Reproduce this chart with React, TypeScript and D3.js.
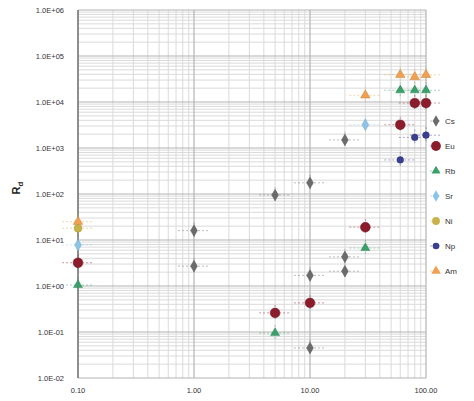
import React from "react";
import * as d3 from "d3";

const seriesNames = ["Cs", "Eu", "Rb", "Sr", "Ni", "Np", "Am"];
const seriesColors = ["#6b6b6b", "#8b1c2c", "#3aa06a", "#8cc4e8", "#c8b34a", "#3a3f8f", "#f0a050"];
const seriesShapes = ["diamond", "circle", "triangle", "diamond", "circle", "circle", "triangle"];
const seriesSizes = [3.6, 5, 3.4, 3.6, 4, 3.4, 3.6];

const csX = [1, 1, 5, 10, 10, 10, 20, 20, 20];
const csY = [16, 2.7, 95, 175, 1.7, 0.045, 1500, 4.3, 2.1];
const euX = [0.1, 5, 10, 30, 60, 80, 100];
const euY = [3.2, 0.26, 0.43, 19, 3200, 9500, 9500];
const rbX = [0.1, 5, 30, 60, 80, 100];
const rbY = [1.05, 0.095, 6.7, 18000, 18000, 18000];
const srX = [0.1, 30];
const srY = [7.8, 3200];
const niX = [0.1];
const niY = [18];
const npX = [60, 80, 100];
const npY = [550, 1700, 1900];
const amX = [0.1, 30, 60, 80, 100];
const amY = [25, 14000, 39000, 35000, 39000];

const allX = [csX, euX, rbX, srX, niX, npX, amX];
const allY = [csY, euY, rbY, srY, niY, npY, amY];

const xTickLabels = ["0.10", "1.00", "10.00", "100.00"];
const xTickValues = [0.1, 1, 10, 100];
const yTickValues = [1e-2, 1e-1, 1, 10, 100, 1e3, 1e4, 1e5, 1e6];
const yTickLabels = ["1.0E-02", "1.0E-01", "1.0E+00", "1.0E+01", "1.0E+02", "1.0E+03", "1.0E+04", "1.0E+05", "1.0E+06"];

export default function App() {
  const W = 474, H = 401;
  const left = 78, right = 426, top = 10, bottom = 378;
  const x = d3.scaleLog().domain([0.1, 100]).range([left, right]);
  const y = d3.scaleLog().domain([1e-2, 1e6]).range([bottom, top]);

  const xMinor: number[] = [];
  for (let e = -1; e < 2; e++) for (let k = 2; k <= 9; k++) xMinor.push(k * Math.pow(10, e));
  const yMinor: number[] = [];
  for (let e = -2; e < 6; e++) for (let k = 2; k <= 9; k++) yMinor.push(k * Math.pow(10, e));

  const sym = (shape: string, size: number) => {
    const t = shape === "circle" ? d3.symbolCircle : shape === "triangle" ? d3.symbolTriangle : d3.symbolDiamond;
    return d3.symbol().type(t).size(size * size * 3)() as string;
  };

  return (
    <svg width={W} height={H} style={{ position: "absolute", left: 0, top: 0, background: "#fff" }}
      fontFamily="Liberation Sans, Arial, sans-serif">
      <rect x={0} y={0} width={W} height={H} fill="#fff" />
      {yMinor.map((v, i) => (
        <line key={"ym" + i} x1={left} x2={right} y1={y(v)} y2={y(v)} stroke="#dadada" strokeWidth={1} />
      ))}
      {xMinor.map((v, i) => (
        <line key={"xm" + i} x1={x(v)} x2={x(v)} y1={top} y2={bottom} stroke="#dadada" strokeWidth={1} />
      ))}
      {yTickValues.map((v, i) => (
        <line key={"yM" + i} x1={left} x2={right} y1={y(v)} y2={y(v)} stroke="#b4b4b4" strokeWidth={1.2} />
      ))}
      {xTickValues.map((v, i) => (
        <line key={"xM" + i} x1={x(v)} x2={x(v)} y1={top} y2={bottom} stroke="#b4b4b4" strokeWidth={1.2} />
      ))}
      <line x1={left} x2={left} y1={top} y2={bottom} stroke="#777" strokeWidth={1.5} />
      {yTickValues.map((v, i) => (
        <text key={"yl" + i} x={64} y={y(v) + 3} fontSize={7.5} textAnchor="end" fill="#333">{yTickLabels[i]}</text>
      ))}
      {xTickValues.map((v, i) => (
        <text key={"xl" + i} x={x(v)} y={393} fontSize={7.5} textAnchor="middle" fill="#333">{xTickLabels[i]}</text>
      ))}
      <text transform={`translate(20,${y(100) - 6}) rotate(-90)`} fontSize={11} fontWeight="bold" textAnchor="middle" fill="#222">
        R<tspan fontSize={8} dy={3}>d</tspan>
      </text>
      {allX.map((xs, s) =>
        xs.map((xv, i) => {
          const cx = x(xv), cy = y(allY[s][i]);
          return (
            <g key={`e${s}-${i}`} stroke={seriesColors[s]} strokeWidth={0.8} strokeDasharray="2,2" opacity={0.55}>
              <line x1={cx - 16} x2={cx + 16} y1={cy} y2={cy} />
              <line x1={cx} x2={cx} y1={cy - 8} y2={cy + 8} />
            </g>
          );
        })
      )}
      {allX.map((xs, s) =>
        xs.map((xv, i) => (
          <path key={`p${s}-${i}`} d={sym(seriesShapes[s], seriesSizes[s])}
            transform={`translate(${x(xv)},${y(allY[s][i])})`} fill={seriesColors[s]} stroke={d3.color(seriesColors[s])!.darker(0.5).toString()} strokeWidth={0.5} />
        ))
      )}
      {seriesNames.map((n, s) => (
        <g key={"lg" + s} transform={`translate(436,${121 + s * 25})`}>
          <line x1={-6} x2={6} y1={0} y2={0} stroke={seriesColors[s]} strokeWidth={0.8} strokeDasharray="2,2" opacity={0.55} />
          <path d={sym(seriesShapes[s], seriesSizes[s])} fill={seriesColors[s]} />
          <text x={9} y={3} fontSize={8} fill="#333">{n}</text>
        </g>
      ))}
    </svg>
  );
}
